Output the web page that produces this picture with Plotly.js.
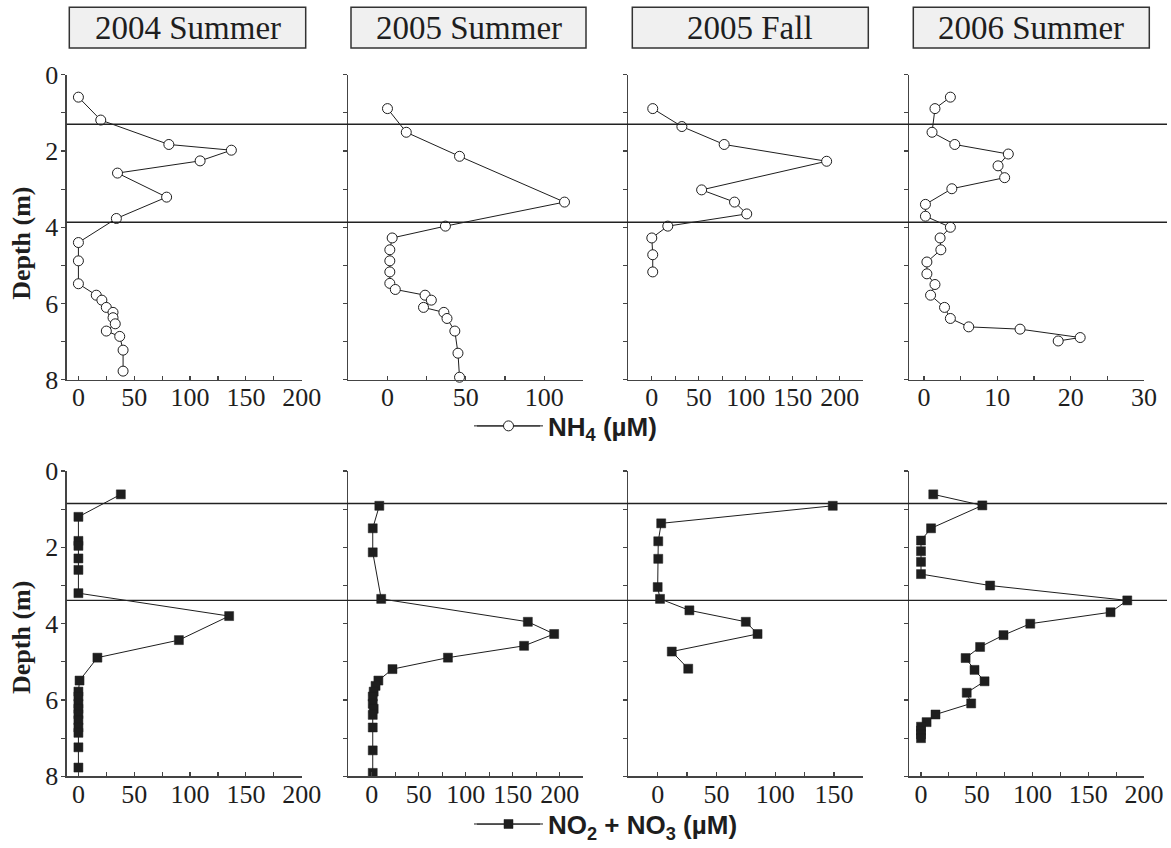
<!DOCTYPE html>
<html>
<head>
<meta charset="utf-8">
<script src="https://cdn.plot.ly/plotly-3.0.1.min.js"></script>
<style>html,body{margin:0;padding:0;background:#fff;}#chart{width:1171px;height:848px;}</style>
</head>
<body>
<div id="chart"></div>
<script>
// ---------- DATA ----------
const panelTitles = ["2004 Summer", "2005 Summer", "2005 Fall", "2006 Summer"];

// NH4 (µM) profiles: depth (m) and concentration
const nh4_2004S_depth = [0.59,1.19,1.83,1.98,2.26,2.58,3.21,3.77,4.40,4.88,5.48,5.78,5.91,6.10,6.23,6.37,6.53,6.72,6.86,7.22,7.77];
const nh4_2004S       = [0,20,81,137,109,35,79,34,0,0,0,16,21,25,31,31,33,25,37,40,40];
const nh4_2005S_depth = [0.89,1.51,2.14,3.34,3.97,4.28,4.59,4.88,5.17,5.47,5.63,5.78,5.91,6.10,6.23,6.39,6.72,7.30,7.93];
const nh4_2005S       = [0,12,46,113,37,3,1.5,1.5,1.5,1.5,5,24,28,23,36,38,43,45,46];
const nh4_2005F_depth = [0.89,1.36,1.83,2.27,3.02,3.34,3.65,3.97,4.28,4.72,5.17];
const nh4_2005F       = [1,32,77,186,53,88,101,17,0,1,1];
const nh4_2006S_depth = [0.59,0.89,1.51,1.83,2.08,2.39,2.70,2.99,3.40,3.71,4.00,4.28,4.59,4.91,5.22,5.50,5.78,6.10,6.39,6.61,6.67,6.89,6.98];
const nh4_2006S       = [3.6,1.5,1.1,4.2,11.5,10.1,11.0,3.8,0.2,0.2,3.6,2.2,2.3,0.4,0.4,1.5,0.9,2.8,3.6,6.1,13.1,21.3,18.3];

// NO2 + NO3 (µM) profiles
const no3_2004S_depth = [0.61,1.20,1.83,1.96,2.29,2.59,3.20,3.80,4.43,4.89,5.49,5.78,5.91,6.10,6.23,6.37,6.53,6.72,6.86,7.24,7.77];
const no3_2004S       = [38,0,0,0,0,0,0,135,90,17,1,0,0,0,0,0,0,0,0,0,0];
const no3_2005S_depth = [0.91,1.50,2.13,3.35,3.95,4.27,4.58,4.89,5.19,5.49,5.63,5.78,5.91,6.10,6.23,6.39,6.72,7.32,7.91];
const no3_2005S       = [8,1,1,10,166,194,162,81,22,7,4,2,1,1,2,1,1,1,1];
const no3_2005F_depth = [0.91,1.37,1.84,2.30,3.04,3.35,3.65,3.95,4.27,4.73,5.18];
const no3_2005F       = [149,3,0.5,0.5,0,2,27,75,85,12,26];
const no3_2006S_depth = [0.61,0.90,1.50,1.82,2.10,2.38,2.70,3.00,3.39,3.70,4.00,4.30,4.61,4.90,5.21,5.51,5.81,6.09,6.38,6.58,6.70,6.80,6.90,7.00];
const no3_2006S       = [11,55,9,0,0,0,0,62,185,170,98,74,53,40,48,57,41,45,13,5,0,0,0,0];

// layer boundary depths (m)
const nh4_boundaries = [1.3, 3.87];
const no3_boundaries = [0.85, 3.39];

// tick labels
const depthTicks = [0, 2, 4, 6, 8];
const nh4_xticks = [[0,50,100,150,200],[0,50,100],[0,50,100,150,200],[0,10,20,30]];
const no3_xticks = [[0,50,100,150,200],[0,50,100,150,200],[0,50,100,150],[0,50,100,150,200]];

const nh4Name = "NH<sub>4</sub> (µM)";
const no3Name = "NO<sub>2</sub> + NO<sub>3</sub> (µM)";

// ---------- LAYOUT HELPERS ----------
const W = 1171, H = 848;
const px = v => v / W;
const py = v => 1 - v / H;
const colPx = [[66.7,301.7],[348.3,583.3],[628.3,863.3],[909.3,1144]];
const topRowPx = [75, 381.7], botRowPx = [473.3, 780];
const nh4Ranges = [[-10.5,200],[-25,125],[-25,225],[-2,30]];
const no3Ranges = [[-10.5,200],[-25,225],[-25,175],[-10.5,200]];
const nh4Minor = [25,25,25,5];
const no3Minor = [25,25,25,25];

const serif = "Liberation Serif";
const sans = "Liberation Sans";
const ink = "#1e1e1e";
const axisCol = "#444";

const nh4Data = [[nh4_2004S, nh4_2004S_depth],[nh4_2005S, nh4_2005S_depth],[nh4_2005F, nh4_2005F_depth],[nh4_2006S, nh4_2006S_depth]];
const no3Data = [[no3_2004S, no3_2004S_depth],[no3_2005S, no3_2005S_depth],[no3_2005F, no3_2005F_depth],[no3_2006S, no3_2006S_depth]];

const traces = [];
const layout = {
  width: W, height: H,
  margin: {l:0, r:0, t:0, b:0},
  paper_bgcolor: "#fff", plot_bgcolor: "rgba(0,0,0,0)",
  showlegend: true,
  shapes: [], annotations: [],
  font: {family: serif, color: ink}
};

function axisX(idx, range, ticks, minor, domain) {
  return {
    domain: domain, range: range, anchor: "y" + (idx === 1 ? "" : idx),
    showgrid: false, zeroline: false, showline: true, linecolor: axisCol, linewidth: 1.3,
    tickmode: "array", tickvals: ticks, ticktext: ticks.map(String),
    ticks: "inside", ticklen: 4, tickcolor: axisCol, tickwidth: 1.2,
    ticklabelstandoff: -6,
    minor: {tickmode: "linear", tick0: 0, dtick: minor, ticks: "inside", ticklen: 4, tickcolor: axisCol, tickwidth: 1.2, showgrid: false},
    tickfont: {family: serif, size: 26, color: ink},
    fixedrange: true
  };
}
function axisY(idx, domain, showLabels) {
  return {
    domain: domain, range: [8, 0], anchor: "x" + (idx === 1 ? "" : idx),
    showgrid: false, zeroline: false, showline: true, linecolor: axisCol, linewidth: 1.3,
    tickmode: "array", tickvals: depthTicks, ticktext: depthTicks.map(String),
    showticklabels: showLabels,
    ticks: "outside", ticklen: 4, tickcolor: axisCol, tickwidth: 1.2,
    ticklabelstandoff: -2,
    minor: {tickmode: "linear", tick0: 0, dtick: 1, ticks: "outside", ticklen: 4, tickcolor: axisCol, tickwidth: 1.2, showgrid: false},
    tickfont: {family: serif, size: 26, color: ink},
    fixedrange: true
  };
}

for (let r = 0; r < 2; r++) {
  const rowPx = r === 0 ? topRowPx : botRowPx;
  const yDom = [py(rowPx[1]), py(rowPx[0])];
  for (let c = 0; c < 4; c++) {
    const idx = r * 4 + c + 1;
    const sfx = idx === 1 ? "" : String(idx);
    const xDom = [px(colPx[c][0]), px(colPx[c][1])];
    const ranges = r === 0 ? nh4Ranges : no3Ranges;
    const ticks = r === 0 ? nh4_xticks[c] : no3_xticks[c];
    const minor = r === 0 ? nh4Minor[c] : no3Minor[c];
    layout["xaxis" + sfx] = axisX(idx, ranges[c], ticks, minor, xDom);
    layout["yaxis" + sfx] = axisY(idx, yDom, c === 0);
    const d = r === 0 ? nh4Data[c] : no3Data[c];
    traces.push({
      type: "scatter", mode: "lines+markers",
      x: d[0], y: d[1], xaxis: "x" + sfx, yaxis: "y" + sfx,
      name: "<b>" + (r === 0 ? nh4Name : no3Name) + "</b>",
      legend: r === 0 ? "legend" : "legend2",
      showlegend: c === 1,
      line: {color: ink, width: 1},
      marker: r === 0
        ? {symbol: "circle", size: 10, color: "#fff", line: {color: ink, width: 1}}
        : {symbol: "square", size: 9, color: ink, line: {color: ink, width: 0.5}},
      cliponaxis: false,
      hoverinfo: "skip"
    });
  }
  // boundary lines spanning all four panels
  const bnd = r === 0 ? nh4_boundaries : no3_boundaries;
  const yref = r === 0 ? "y" : "y5";
  bnd.forEach(b => layout.shapes.push({
    type: "line", xref: "paper", yref: yref, x0: px(66.7), x1: px(1167), y0: b, y1: b,
    line: {color: "#222", width: 1.4}, layer: "above"
  }));
  // Depth axis title
  layout.annotations.push({
    xref: "paper", yref: "paper", x: px(22), y: py(r === 0 ? 245 : 641),
    text: "<b>Depth (m)</b>", textangle: -90, showarrow: false,
    font: {family: serif, size: 26, color: ink}, xanchor: "center", yanchor: "middle"
  });
  // legend sample line extension
  const ly = r === 0 ? 428 : 828;
  layout.shapes.push({type: "line", xref: "paper", yref: "paper", x0: px(477), x1: px(540), y0: py(ly), y1: py(ly), line: {color: ink, width: 1}});
}

// panel titles in boxes
const boxPx = [[69.3,305.7],[351,586],[632.3,868.3],[913.3,1149.3]];
panelTitles.forEach((t, i) => {
  layout.shapes.push({type: "rect", xref: "paper", yref: "paper",
    x0: px(boxPx[i][0]), x1: px(boxPx[i][1]), y0: py(48.3), y1: py(7.3),
    fillcolor: "#f0f0f0", line: {color: "#333", width: 1.5}});
  layout.annotations.push({xref: "paper", yref: "paper",
    x: px((boxPx[i][0] + boxPx[i][1]) / 2), y: py(28.5), text: t, showarrow: false,
    font: {family: serif, size: 33, color: ink}, xanchor: "center", yanchor: "middle"});
});

// legends
const legBase = {orientation: "h", xanchor: "left", yanchor: "middle", bgcolor: "rgba(0,0,0,0)",
  borderwidth: 0, itemwidth: 69, font: {family: sans, size: 26, color: ink}, itemclick: false, itemdoubleclick: false};
layout.legend = Object.assign({}, legBase, {x: px(469), y: py(428)});
layout.legend2 = Object.assign({}, legBase, {x: px(469), y: py(828)});

Plotly.newPlot("chart", traces, layout, {staticPlot: true, displayModeBar: false});
</script>
</body>
</html>
